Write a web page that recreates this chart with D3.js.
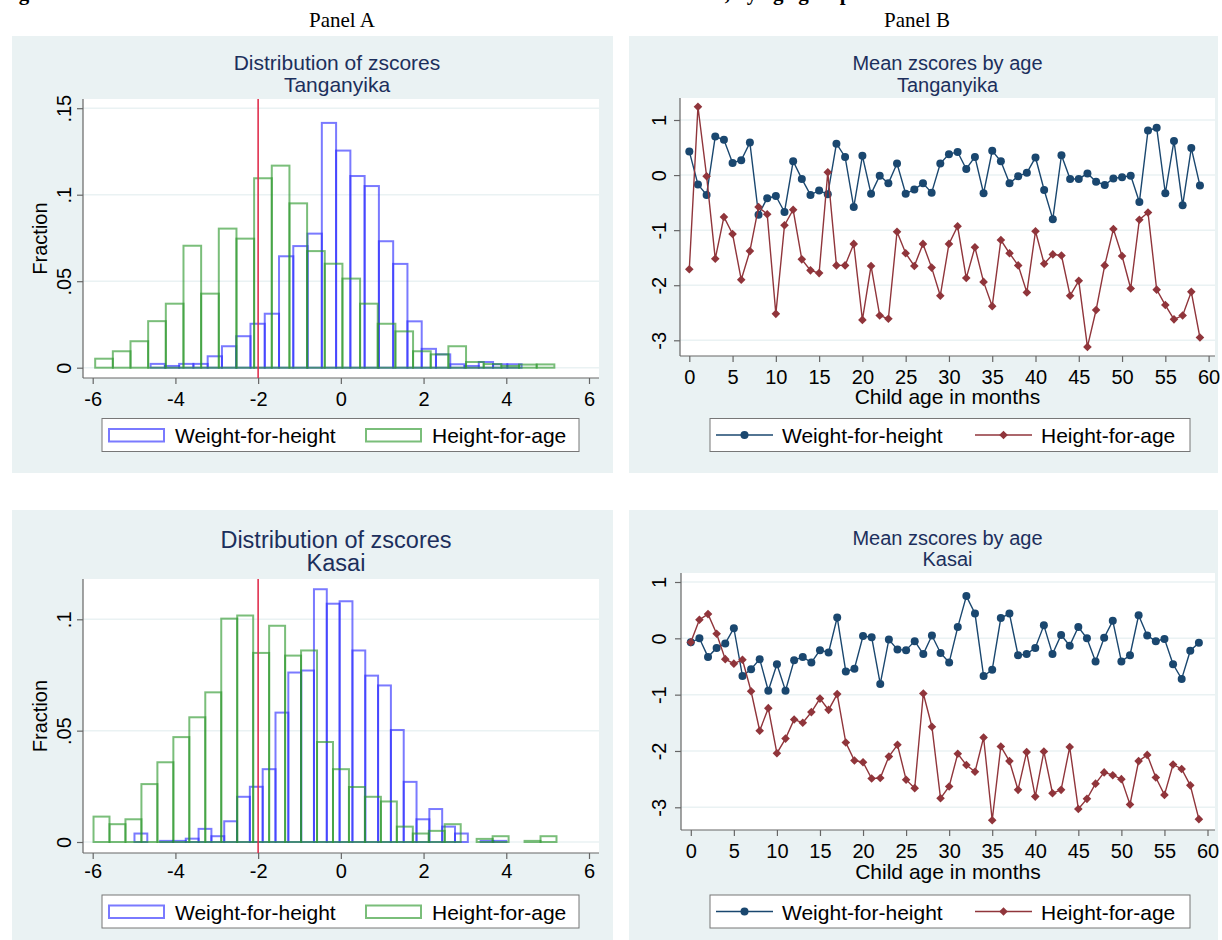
<!DOCTYPE html>
<html>
<head>
<meta charset="utf-8">
<script src="https://cdn.jsdelivr.net/npm/d3@7"></script>
<style>
body { margin: 0; background: #fff; }
svg { display: block; }
text { font-family: "Liberation Sans", Arial, sans-serif; }
</style>
</head>
<body>
<script>
//Width and height
var w = 1222;
var h = 940;

var seriesNames = ["Weight-for-height", "Height-for-age"];

// Panel A: histograms (fraction per bin), bin start and width in z units
var tgWhzStart = -4.6, tgWhzWidth = 0.345;
var tgWhz = [.0022, .001, .0022, .0022, .0066, .0124, .0182, .0254, .0312, .0644, .0703, .0775, .1415,
  .1255, .1108, .105, .0731, .06, .0268, .0109, .0077, .002, .001, .0033, .002, .002];
var tgHazStart = -5.94, tgHazWidth = 0.427;
var tgHaz = [.0052, .0095, .0153, .0269, .037, .0705, .0428, .0804, .0746, .1095, .1168, .095, .0674,
  .0601, .0515, .037, .0254, .021, .0095, .0077, .0124, .0033, .0021, .001, .0018, .0019];

var kaWhzStart = -4.99, kaWhzWidth = 0.31;
var kaWhz = [.0038, 0, .0005, .0005, .0015, .0059, .0026, .0093, .0203, .0248, .0327, .0581, .0761, .077,
  .1135, .107, .1081, .086, .0747, .0703, .0503, .027, .0102, .0148, .0069, .0038, 0, .0005, .0005];
var kaHazStart = -5.98, kaHazWidth = 0.386;
var kaHaz = [.0114, .008, .0102, .026, .0358, .0471, .056, .0672, .1003, .1017, .0849, .0971, .0837, .086,
  .0449, .0327, .0247, .0203, .0182, .0069, .0038, .005, .008, 0, .0014, .0026, 0, .0005, .0026];

var cutoff = -2;
var histXTicks = [-6, -4, -2, 0, 2, 4, 6];
var tgHistYTicks = [0, .05, .1, .15];
var kaHistYTicks = [0, .05, .1];

// Panel B: mean zscores by age in months (0..59)
var ages = d3.range(0, 60);
var tgMeanWhz = [.43, -.17, -.36, .70, .64, .22, .27, .59, -.72, -.42, -.38, -.67, .25, -.07, -.36, -.28,
  -.35, .57, .33, -.58, .35, -.34, -.01, -.15, .21, -.34, -.26, -.15, -.32, .21, .38, .42, .11, .33, -.33,
  .44, .25, -.15, -.02, .04, .32, -.27, -.80, .36, -.07, -.07, .03, -.12, -.18, -.06, -.04, -.01, -.49,
  .81, .86, -.33, .62, -.55, .49, -.19];
var tgMeanHaz = [-1.71, 1.24, -.02, -1.52, -.76, -1.07, -1.90, -1.38, -.58, -.71, -2.52, -.91, -.63, -1.53,
  -1.73, -1.78, .05, -1.64, -1.64, -1.25, -2.63, -1.65, -2.55, -2.61, -1.03, -1.42, -1.65, -1.25, -1.68,
  -2.19, -1.25, -.93, -1.87, -1.31, -1.94, -2.38, -1.18, -1.42, -1.64, -2.13, -1.02, -1.61, -1.44, -1.46,
  -2.19, -1.92, -3.12, -2.45, -1.64, -.98, -1.47, -2.06, -.81, -.68, -2.08, -2.36, -2.62, -2.55, -2.12, -2.95];
var kaMeanWhz = [-.07, 0, -.33, -.17, -.09, .18, -.67, -.55, -.37, -.93, -.46, -.93, -.39, -.33, -.43, -.21,
  -.25, .37, -.59, -.54, .04, .02, -.81, -.02, -.20, -.21, -.05, -.28, .05, -.26, -.43, .20, .75, .44, -.67,
  -.56, .36, .44, -.30, -.28, -.17, .23, -.28, .06, -.13, .20, 0, -.41, .01, .31, -.41, -.30, .41, .05,
  -.05, -.01, -.46, -.72, -.22, -.08];
var kaMeanHaz = [-.07, .33, .43, .08, -.37, -.45, -.38, -.94, -1.64, -1.24, -2.04, -1.78, -1.44, -1.50, -1.31,
  -1.07, -1.27, -.99, -1.85, -2.17, -2.20, -2.49, -2.48, -2.10, -1.89, -2.51, -2.66, -.98, -1.57, -2.84,
  -2.63, -2.05, -2.25, -2.37, -1.76, -3.23, -1.92, -2.18, -2.69, -2.02, -2.81, -2.01, -2.75, -2.69, -1.93,
  -3.03, -2.85, -2.58, -2.38, -2.43, -2.50, -2.95, -2.18, -2.07, -2.47, -2.78, -2.24, -2.32, -2.61, -3.21];
var lineXTicks = d3.range(0, 61, 5);
var lineYTicks = [1, 0, -1, -2, -3];

var bgColor = "#eaf2f3";
var titleColor = "#1c2f5c";
var histBlue = "rgba(40,40,255,0.62)";
var histGreen = "rgba(40,150,40,0.62)";
var navy = "#1a476f";
var maroon = "#90353b";

var svg = d3.select("body").append("svg")
  .attr("width", w)
  .attr("height", h);

// page caption, cut off at the top edge (only the descenders show)
svg.append("text")
  .attr("x", 0).attr("y", 0)
  .style("font-family", "'Liberation Serif', 'Times New Roman', serif")
  .style("font-weight", "bold").style("font-size", "21px")
  .text("Figure 4: Distribution of zscores and mean zscores of children in the two districts, by age group");

svg.append("text").attr("x", 342).attr("y", 27).attr("text-anchor", "middle")
  .style("font-family", "'Liberation Serif', 'Times New Roman', serif").style("font-size", "21px")
  .text("Panel A");
svg.append("text").attr("x", 917).attr("y", 27).attr("text-anchor", "middle")
  .style("font-family", "'Liberation Serif', 'Times New Roman', serif").style("font-size", "21px")
  .text("Panel B");

// plain hyphen for negatives, as in the original
function intFmt(d) { return String(d); }

function panelFrame(p) {
  svg.append("rect").attr("x", p.gx).attr("y", p.gy).attr("width", p.gw).attr("height", p.gh)
    .attr("fill", bgColor);
  svg.append("rect").attr("x", p.x0).attr("y", p.y0).attr("width", p.x1 - p.x0).attr("height", p.y1 - p.y0)
    .attr("fill", "white");
  p.titles.forEach(function(t, i) {
    svg.append("text").attr("x", p.tx).attr("y", p.ty[i]).attr("text-anchor", "middle")
      .attr("fill", titleColor).style("font-size", p.tsize + "px").text(t);
  });
}

function axes(p, x, y, xTicks, yTicks, yFmt) {
  // grid lines
  svg.append("g").selectAll("line").data(yTicks).enter().append("line")
    .attr("x1", p.x0).attr("x2", p.x1)
    .attr("y1", function(d) { return y(d); }).attr("y2", function(d) { return y(d); })
    .attr("stroke", bgColor).attr("stroke-width", 1.5);

  var xa = svg.append("g").attr("transform", "translate(0," + p.y1 + ")")
    .call(d3.axisBottom(x).tickValues(xTicks).tickSize(6).tickFormat(intFmt));
  xa.select(".domain").attr("d", "M" + p.x0 + ",0H" + p.x1);
  var ya = svg.append("g").attr("transform", "translate(" + p.x0 + ",0)")
    .call(d3.axisLeft(y).tickValues(yTicks).tickSize(6).tickFormat(yFmt));
  ya.select(".domain").attr("d", "M0," + p.y0 + "V" + p.y1);
  [xa, ya].forEach(function(a) {
    a.select(".domain").attr("stroke", "#666").attr("stroke-width", 1.2);
    a.selectAll(".tick line").attr("stroke", "#666").attr("stroke-width", 1.2);
    a.selectAll("text").attr("fill", "#000").style("font-size", "20px")
      .style("font-family", "'Liberation Sans', Arial, sans-serif");
  });
  xa.selectAll("text").attr("y", p.xlabY - p.y1).attr("dy", null);
  // rotated y tick labels (tick groups are already translated to y(d))
  ya.selectAll("text")
    .attr("x", null).attr("y", null).attr("dy", null).attr("text-anchor", "middle")
    .attr("transform", "translate(" + (p.ylabX - p.x0) + ",0) rotate(-90)");
}

function histFmt(d) {
  return d === 0 ? "0" : String(d).replace(/^0/, "");
}

function drawHist(p, series) {
  panelFrame(p);
  var x = d3.scaleLinear().domain([-6, 6]).range(p.xr);
  var y = d3.scaleLinear().domain([0, 0.1]).range(p.yr);
  axes(p, x, y, histXTicks, p.yTicks, histFmt);

  series.forEach(function(s) {
    var bins = s.values.map(function(v, i) {
      return { x0: s.start + i * s.width, x1: s.start + (i + 1) * s.width, v: v };
    }).filter(function(b) { return b.v > 0; });
    svg.append("g").selectAll("rect").data(bins).enter().append("rect")
      .attr("x", function(b) { return x(b.x0); })
      .attr("width", function(b) { return x(b.x1) - x(b.x0); })
      .attr("y", function(b) { return y(b.v); })
      .attr("height", function(b) { return y(0) - y(b.v); })
      .attr("fill", "none")
      .attr("stroke", s.color)
      .attr("stroke-width", 2);
  });

  svg.append("line")
    .attr("x1", x(cutoff)).attr("x2", x(cutoff))
    .attr("y1", p.y0).attr("y2", p.y1)
    .attr("stroke", "#e0304e").attr("stroke-width", 1.6);

  svg.append("text")
    .attr("transform", "translate(" + p.ytitleX + "," + ((p.y0 + p.y1) / 2) + ") rotate(-90)")
    .attr("text-anchor", "middle").style("font-size", "20px").text("Fraction");

  // legend
  var lg = svg.append("g").attr("transform", "translate(" + p.legX + "," + p.legY + ")");
  lg.append("rect").attr("width", 477).attr("height", 33).attr("fill", "white")
    .attr("stroke", "#777").attr("stroke-width", 1);
  series.forEach(function(s, i) {
    var ox = i === 0 ? 7 : 264;
    lg.append("rect").attr("x", ox).attr("y", 10.5).attr("width", 55).attr("height", 12.5)
      .attr("fill", "white").attr("stroke", s.color).attr("stroke-width", 2);
    lg.append("text").attr("x", ox + 66).attr("y", 24.5).style("font-size", "21px").text(s.name);
  });
}

function diamond(r) {
  return "M0," + (-r) + "L" + r + ",0L0," + r + "L" + (-r) + ",0Z";
}

function drawLines(p, series) {
  panelFrame(p);
  var x = d3.scaleLinear().domain([0, 60]).range(p.xr);
  var y = d3.scaleLinear().domain([1, -3]).range(p.yr);
  axes(p, x, y, lineXTicks, lineYTicks, intFmt);

  var line = d3.line()
    .x(function(d, i) { return x(ages[i]); })
    .y(function(d) { return y(d); });

  series.forEach(function(s) {
    svg.append("path").datum(s.values)
      .attr("d", line).attr("fill", "none")
      .attr("stroke", s.color).attr("stroke-width", 1.4);
    var pts = svg.append("g").selectAll("path.m").data(s.values).enter();
    if (s.marker === "circle") {
      pts.append("circle")
        .attr("cx", function(d, i) { return x(ages[i]); })
        .attr("cy", function(d) { return y(d); })
        .attr("r", 4).attr("fill", s.color);
    } else {
      pts.append("path")
        .attr("transform", function(d, i) { return "translate(" + x(ages[i]) + "," + y(d) + ")"; })
        .attr("d", diamond(4.3)).attr("fill", s.color);
    }
  });

  svg.append("text").attr("x", (p.x0 + p.x1) / 2).attr("y", p.xtitleY)
    .attr("text-anchor", "middle").style("font-size", "21px").text("Child age in months");

  // legend
  var lg = svg.append("g").attr("transform", "translate(" + p.legX + "," + p.legY + ")");
  lg.append("rect").attr("width", 480).attr("height", 33).attr("fill", "white")
    .attr("stroke", "#777").attr("stroke-width", 1);
  series.forEach(function(s, i) {
    var ox = i === 0 ? 6 : 265;
    lg.append("line").attr("x1", ox).attr("x2", ox + 57).attr("y1", 16.5).attr("y2", 16.5)
      .attr("stroke", s.color).attr("stroke-width", 1.4);
    if (s.marker === "circle") {
      lg.append("circle").attr("cx", ox + 28.5).attr("cy", 16.5).attr("r", 4).attr("fill", s.color);
    } else {
      lg.append("path").attr("transform", "translate(" + (ox + 28.5) + ",16.5)")
        .attr("d", diamond(4.3)).attr("fill", s.color);
    }
    lg.append("text").attr("x", ox + 66).attr("y", 24.5).style("font-size", "21px").text(s.name);
  });
}

drawHist({
  gx: 12, gy: 36, gw: 601, gh: 437,
  x0: 83, x1: 599, y0: 99, y1: 378,
  xr: [92.7, 589], yr: [367.7, 194.7], yTicks: tgHistYTicks,
  xlabY: 406, ylabX: 71, ytitleX: 47,
  titles: ["Distribution of zscores", "Tanganyika"], tx: 337, ty: [70, 92], tsize: 21,
  legX: 102, legY: 418.5
}, [
  { name: seriesNames[0], start: tgWhzStart, width: tgWhzWidth, values: tgWhz, color: histBlue },
  { name: seriesNames[1], start: tgHazStart, width: tgHazWidth, values: tgHaz, color: histGreen }
]);

drawHist({
  gx: 12, gy: 510, gw: 601, gh: 430,
  x0: 83, x1: 599, y0: 579, y1: 853,
  xr: [92.7, 589], yr: [842, 619.3], yTicks: kaHistYTicks,
  xlabY: 878, ylabX: 71, ytitleX: 47,
  titles: ["Distribution of zscores", "Kasai"], tx: 336, ty: [548, 571], tsize: 23.5,
  legX: 102, legY: 895
}, [
  { name: seriesNames[0], start: kaWhzStart, width: kaWhzWidth, values: kaWhz, color: histBlue },
  { name: seriesNames[1], start: kaHazStart, width: kaHazWidth, values: kaHaz, color: histGreen }
]);

drawLines({
  gx: 629, gy: 36, gw: 589, gh: 437,
  x0: 680, x1: 1215, y0: 98, y1: 356,
  xr: [689.3, 1208.6], yr: [120, 340.3],
  xlabY: 384, ylabX: 666, xtitleY: 404,
  titles: ["Mean zscores by age", "Tanganyika"], tx: 947.5, ty: [70, 92], tsize: 20,
  legX: 710, legY: 418.5
}, [
  { name: seriesNames[0], values: tgMeanWhz, color: navy, marker: "circle" },
  { name: seriesNames[1], values: tgMeanHaz, color: maroon, marker: "diamond" }
]);

drawLines({
  gx: 629, gy: 510, gw: 589, gh: 430,
  x0: 681, x1: 1215, y0: 573, y1: 830,
  xr: [690.8, 1207.5], yr: [582, 807.3],
  xlabY: 858, ylabX: 666, xtitleY: 879,
  titles: ["Mean zscores by age", "Kasai"], tx: 947.5, ty: [545, 566], tsize: 20,
  legX: 710, legY: 895
}, [
  { name: seriesNames[0], values: kaMeanWhz, color: navy, marker: "circle" },
  { name: seriesNames[1], values: kaMeanHaz, color: maroon, marker: "diamond" }
]);
</script>
</body>
</html>
